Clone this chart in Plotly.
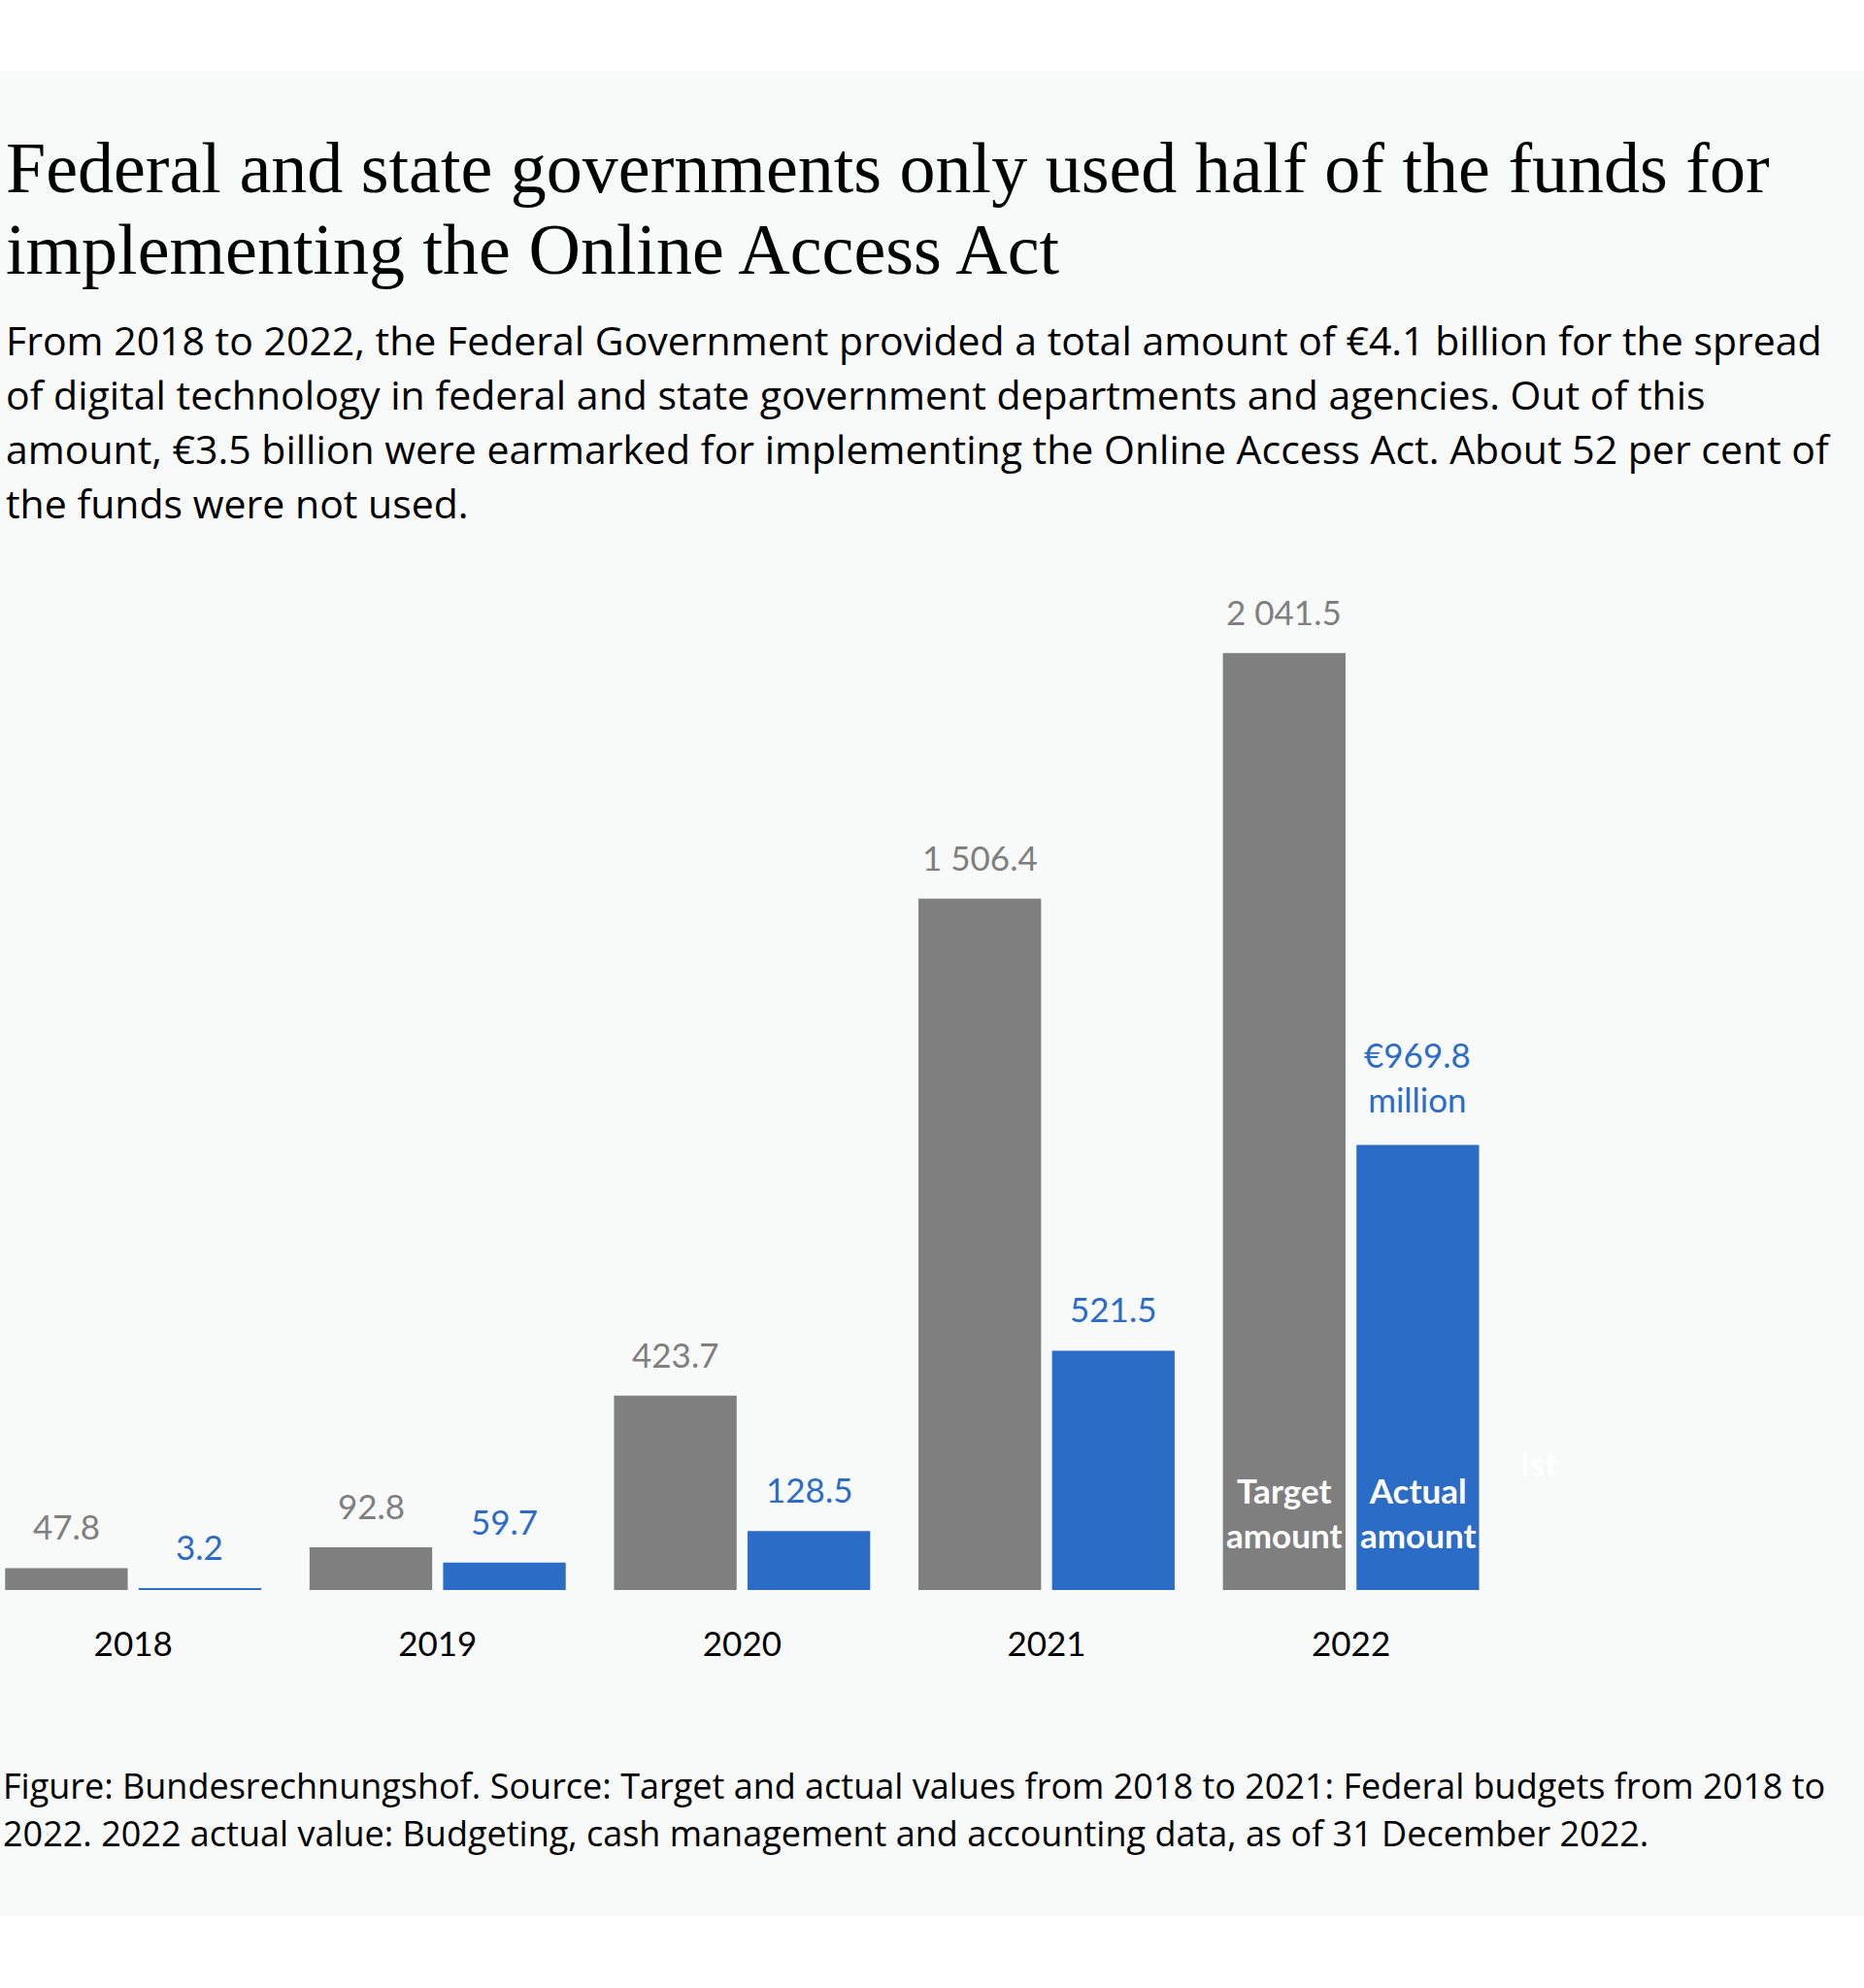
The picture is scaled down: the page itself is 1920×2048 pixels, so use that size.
import plotly.graph_objects as go

# ---------------- data ----------------
years = ["2018", "2019", "2020", "2021", "2022"]
target_values = [47.8, 92.8, 423.7, 1506.4, 2041.5]
actual_values = [3.2, 59.7, 128.5, 521.5, 969.8]
target_labels = ["47.8", "92.8", "423.7", "1 506.4", "2 041.5"]
actual_labels = ["3.2", "59.7", "128.5", "521.5", "€969.8<br>million"]

title_lines = [
    "Federal and state governments only used half of the funds for",
    "implementing the Online Access Act",
]
subtitle_lines = [
    "From 2018 to 2022, the Federal Government provided a total amount of €4.1 billion for the spread",
    "of digital technology in federal and state government departments and agencies. Out of this",
    "amount, €3.5 billion were earmarked for implementing the Online Access Act. About 52 per cent of",
    "the funds were not used.",
]
footer_lines = [
    "Figure: Bundesrechnungshof. Source: Target and actual values from 2018 to 2021: Federal budgets from 2018 to",
    "2022. 2022 actual value: Budgeting, cash management and accounting data, as of 31 December 2022.",
]

# ---------------- style ----------------
W, H = 1920, 2048
PLOT_TOP, PLOT_BOTTOM = 600, 1638
GRAY = "#7f7f7f"
BLUE = "#2b6cc6"
BG = "#f8f9f9"
SANS = "Lato"
BODY = "Open Sans"
SERIF = "Liberation Serif"

BAR_W = 0.4027
T_OFF = -0.4207
A_OFF = 0.018
PX_PER_UNIT = 0.4728
Y_MAX = (PLOT_BOTTOM - PLOT_TOP) / PX_PER_UNIT


def py(pix):
    return (PLOT_BOTTOM - pix) / (PLOT_BOTTOM - PLOT_TOP)


idx = list(range(len(years)))

fig = go.Figure()
fig.add_trace(go.Bar(x=idx, y=target_values, width=BAR_W, offset=T_OFF,
                     marker=dict(color=GRAY, line=dict(width=0)), name="Target amount",
                     hoverinfo="y"))
fig.add_trace(go.Bar(x=idx, y=actual_values, width=BAR_W, offset=A_OFF,
                     marker=dict(color=BLUE, line=dict(width=0)), name="Actual amount",
                     hoverinfo="y"))

ann = []
LBL = 35
for i in idx:
    ann.append(dict(x=i + T_OFF + BAR_W / 2, y=target_values[i], xref="x", yref="y",
                    text=target_labels[i], showarrow=False, yanchor="middle",
                    yshift=43, font=dict(family=SANS, size=LBL, color=GRAY)))
    lines = actual_labels[i].count("<br>") + 1
    ann.append(dict(x=i + A_OFF + BAR_W / 2, y=actual_values[i], xref="x", yref="y",
                    text=actual_labels[i], showarrow=False, yanchor="middle",
                    yshift=43 if lines == 1 else 70,
                    font=dict(family=SANS, size=LBL, color=BLUE)))

# in-bar legend labels for 2022
ann.append(dict(x=4 + T_OFF + BAR_W / 2, y=py(1558), xref="x", yref="paper",
                text="Target<br>amount", showarrow=False, yanchor="middle",
                font=dict(family=SANS, size=35, color="white", weight="bold")))
ann.append(dict(x=4 + A_OFF + BAR_W / 2, y=py(1558), xref="x", yref="paper",
                text="Actual<br>amount", showarrow=False, yanchor="middle",
                font=dict(family=SANS, size=35, color="white", weight="bold")))
ann.append(dict(x=1606 / W, y=py(1507), xref="paper", yref="paper",
                text="Ist", showarrow=False, yanchor="middle",
                font=dict(family=SANS, size=35, color="white", weight="bold")))

# title
TFS = 74
for line, base in zip(title_lines, [199, 283]):
    ann.append(dict(x=4 / W, y=py(base - 0.35 * TFS), xref="paper", yref="paper",
                    xanchor="left", yanchor="middle", text=line, showarrow=False,
                    font=dict(family=SERIF, size=TFS, color="#000000")))
SFS = 41
for line, base in zip(subtitle_lines, [364, 420, 476, 532]):
    ann.append(dict(x=4 / W, y=py(base - 0.35 * SFS), xref="paper", yref="paper",
                    xanchor="left", yanchor="middle", text=line, showarrow=False,
                    font=dict(family=BODY, size=SFS, color="#000000")))
FFS = 36
for line, base in zip(footer_lines, [1852, 1901]):
    ann.append(dict(x=1 / W, y=py(base - 0.35 * FFS), xref="paper", yref="paper",
                    xanchor="left", yanchor="middle", text=line, showarrow=False,
                    font=dict(family=BODY, size=FFS, color="#000000")))

fig.update_layout(
    width=W, height=H,
    margin=dict(l=0, r=0, t=PLOT_TOP, b=H - PLOT_BOTTOM, pad=0),
    paper_bgcolor="white",
    plot_bgcolor="rgba(0,0,0,0)",
    barmode="overlay",
    showlegend=False,
    annotations=ann,
    shapes=[dict(type="rect", xref="paper", yref="paper", x0=0, x1=1,
                 y0=py(1973), y1=py(73), fillcolor=BG, line=dict(width=0),
                 layer="below")],
    xaxis=dict(range=[-0.4375, -0.4375 + W / 313.6], tickmode="array", tickvals=idx,
               ticktext=years, showgrid=False, zeroline=False, showline=False,
               ticks="", tickfont=dict(family=SANS, size=35, color="#000000"),
               ticklabelstandoff=32, fixedrange=True),
    yaxis=dict(range=[0, Y_MAX], visible=False, fixedrange=True),
)

fig.write_html("out.html", config={"displayModeBar": False},
               post_script="document.body.style.margin='0px';")
